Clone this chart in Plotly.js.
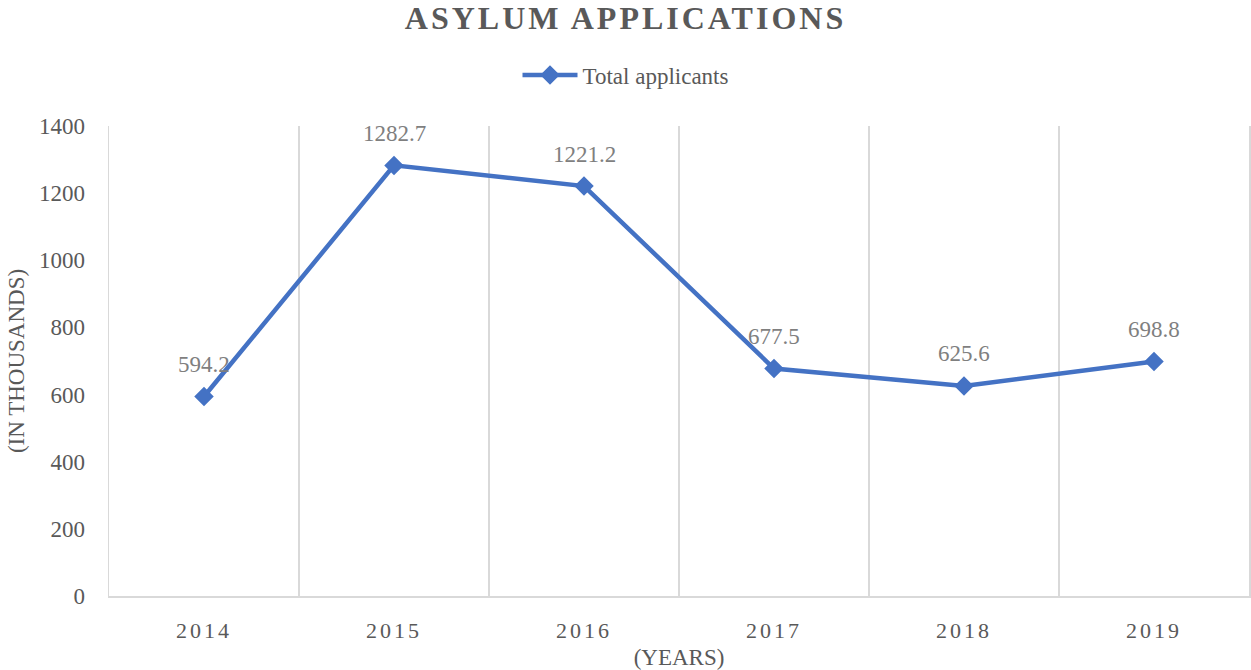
<!DOCTYPE html>
<html>
<head>
<meta charset="utf-8">
<script src="https://cdn.plot.ly/plotly-3.0.1.min.js"></script>
<style>
  html, body { margin: 0; padding: 0; background: #fff; }
  #chart { width: 1251px; height: 670px; }
  .gtitle { letter-spacing: 3px; }
  .xtick text { letter-spacing: 3px; }
</style>
</head>
<body>
<div id="chart"></div>
<script>
const years = ["2014", "2015", "2016", "2017", "2018", "2019"];
const totalApplicants = [594.2, 1282.7, 1221.2, 677.5, 625.6, 698.8];
const seriesName = "Total applicants";
const yTicks = [0, 200, 400, 600, 800, 1000, 1200, 1400];

const FONT = '"Liberation Serif", "Times New Roman", serif';
const BLUE = '#4472C4';
const GRID = '#d9d9d9';

const trace = {
  type: 'scatter',
  mode: 'lines+markers',
  x: years,
  y: totalApplicants,
  name: seriesName,
  line: { color: BLUE, width: 4.5 },
  marker: { symbol: 'diamond', size: 15, color: BLUE },
  cliponaxis: false,
  hoverinfo: 'x+y'
};

const labels = years.map((yr, i) => ({
  x: i,
  y: totalApplicants[i],
  xref: 'x',
  yref: 'y',
  text: totalApplicants[i].toFixed(1),
  showarrow: false,
  xanchor: 'center',
  yanchor: 'middle',
  yshift: 32,
  font: { family: FONT, size: 23, color: '#7f7f7f' }
}));

const layout = {
  width: 1251,
  height: 670,
  paper_bgcolor: '#fff',
  plot_bgcolor: '#fff',
  margin: { l: 109, r: 2, t: 126, b: 74 },
  font: { family: FONT, size: 23, color: '#595959' },
  title: {
    text: '<b>ASYLUM APPLICATIONS</b>',
    font: { family: FONT, size: 32, color: '#595959' },
    x: 0.5, xref: 'container', xanchor: 'center',
    y: 1 - 18 / 670, yref: 'container', yanchor: 'middle'
  },
  showlegend: true,
  legend: {
    orientation: 'h',
    x: 0.5, xref: 'container', xanchor: 'center',
    y: 1 - 75 / 670, yref: 'container', yanchor: 'middle',
    font: { family: FONT, size: 23, color: '#595959' },
    itemwidth: 55,
    bgcolor: 'rgba(0,0,0,0)'
  },
  annotations: labels,
  xaxis: {
    type: 'category',
    categoryarray: years,
    range: [-0.5, years.length - 0.5],
    autorange: false,
    tickson: 'boundaries',
    showgrid: true,
    gridcolor: GRID,
    gridwidth: 1.5,
    showline: true,
    linecolor: GRID,
    linewidth: 1.5,
    ticks: '',
    ticklabelstandoff: 14,
    tickfont: { family: FONT, size: 22, color: '#595959' },
    zeroline: false,
    fixedrange: true,
    title: {
      text: '(YEARS)',
      font: { family: FONT, size: 23, color: '#595959' },
      standoff: 8
    }
  },
  yaxis: {
    range: [0, 1400],
    autorange: false,
    tickvals: yTicks,
    ticktext: yTicks.map(String),
    showgrid: false,
    zeroline: false,
    showline: true,
    mirror: true,
    linecolor: GRID,
    linewidth: 1.5,
    ticks: '',
    ticklabelstandoff: 18,
    tickfont: { family: FONT, size: 23, color: '#595959' },
    fixedrange: true,
    title: {
      text: '(IN THOUSANDS)',
      font: { family: FONT, size: 23, color: '#595959' },
      standoff: 8
    }
  }
};

Plotly.newPlot('chart', [trace], layout, { displayModeBar: false, staticPlot: true });
</script>
</body>
</html>
